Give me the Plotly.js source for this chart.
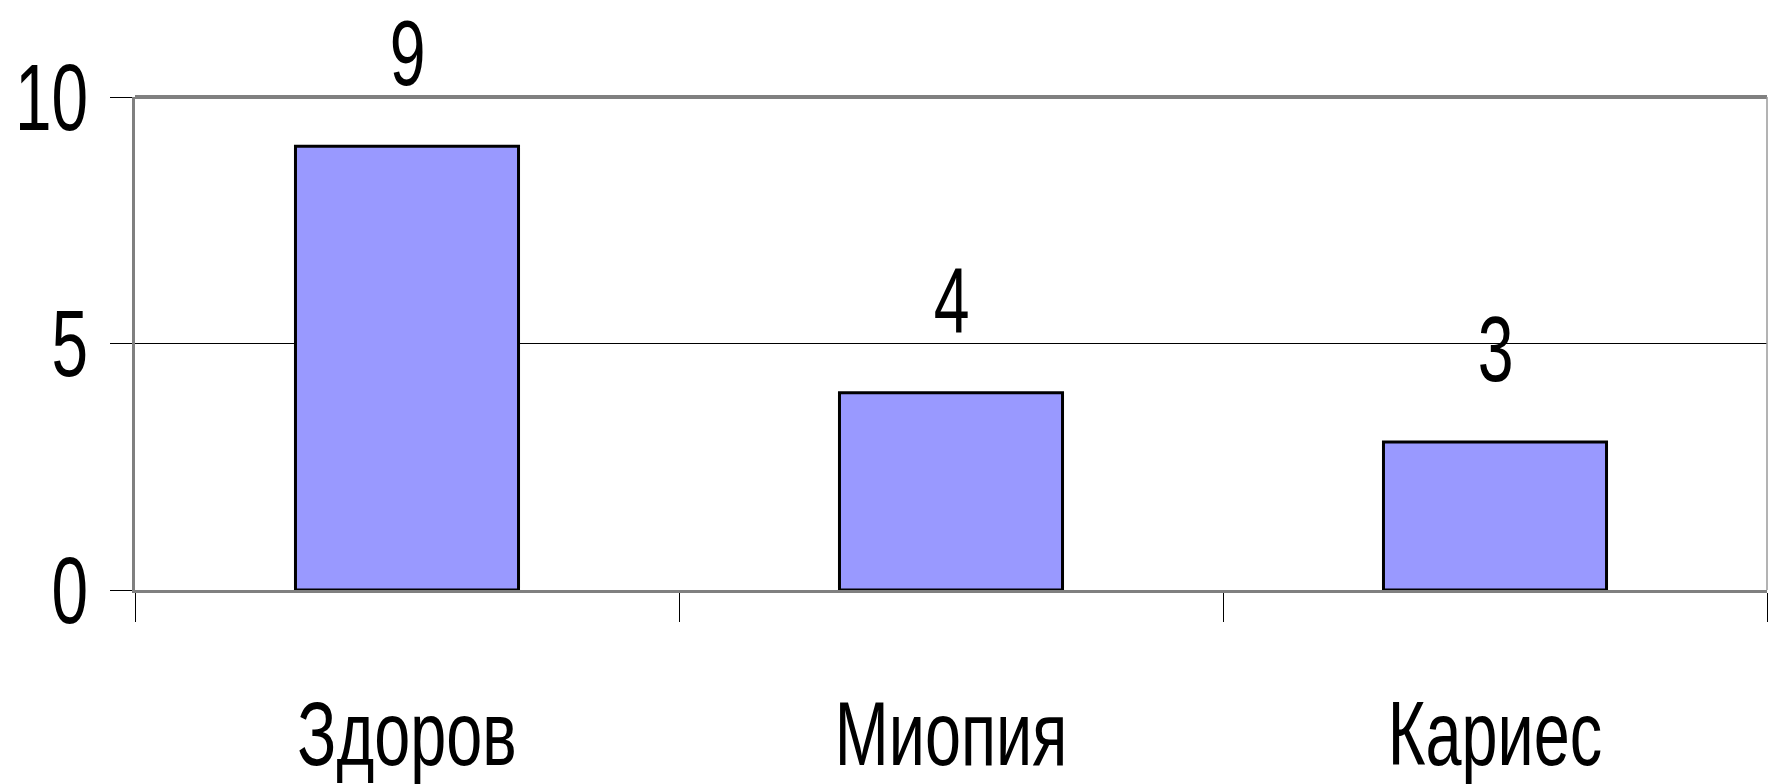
<!DOCTYPE html>
<html>
<head>
<meta charset="utf-8">
<script src="https://cdn.plot.ly/plotly-3.0.1.min.js"></script>
<style>
  html, body { margin: 0; padding: 0; background: #ffffff; }
  #chart { width: 1769px; height: 784px; }
</style>
</head>
<body>
<div id="chart"></div>
<script>
const categories = ["Здоров", "Миопия", "Кариес"];
const values = [9, 4, 3];
const yTickValues = [0, 5, 10];
const yTickLabels = ["0", "5", "10"];

const FONT = '"Liberation Sans", Arial, sans-serif';
const NUM_SIZE = 94;
const ANN_SIZE = 92;
const CAT_SIZE = 90;
const SQUEEZE_NUM = 0.7;
const SQUEEZE_CAT = 0.72;

const trace = {
  type: 'bar',
  x: categories,
  y: values,
  marker: { color: '#9999FF', line: { color: '#000000', width: 3 } },
  hoverinfo: 'skip'
};

const annotations = categories.map((c, i) => ({
  x: c, y: values[i], xref: 'x', yref: 'y',
  text: String(values[i]),
  showarrow: false,
  yanchor: 'bottom',
  yshift: 40,
  font: { family: FONT, size: ANN_SIZE, color: '#000000' }
}));

const layout = {
  width: 1769, height: 784,
  margin: { l: 135, r: 2, t: 97, b: 194, pad: 0 },
  paper_bgcolor: '#ffffff',
  plot_bgcolor: '#ffffff',
  showlegend: false,
  bargap: 0.59,
  font: { family: FONT, color: '#000000' },
  xaxis: {
    type: 'category',
    tickson: 'boundaries',
    ticks: 'outside', ticklen: 29, tickwidth: 1, tickcolor: '#000000',
    showline: true, linecolor: '#808080', linewidth: 3,
    showgrid: false, zeroline: false,
    tickfont: { family: FONT, size: CAT_SIZE, color: '#000000' },
    ticklabelstandoff: 64,
    fixedrange: true
  },
  yaxis: {
    range: [0, 10],
    tickvals: yTickValues, ticktext: yTickLabels,
    ticks: 'outside', ticklen: 22, tickwidth: 1, tickcolor: '#000000',
    showline: true, linecolor: '#808080', linewidth: 3,
    showgrid: true, gridcolor: '#000000', gridwidth: 1.5,
    zeroline: false,
    tickfont: { family: FONT, size: NUM_SIZE, color: '#000000' },
    ticklabelstandoff: 3,
    fixedrange: true
  },
  annotations: annotations,
  shapes: [
    { type: 'line', xref: 'paper', yref: 'paper', x0: 0, x1: 1, y0: 1, y1: 1,
      line: { color: '#808080', width: 4 } },
    { type: 'line', xref: 'paper', yref: 'paper', x0: 1, x1: 1, y0: 0, y1: 1,
      line: { color: '#9a9a9a', width: 1.5 } }
  ]
};

// Narrow the text horizontally (the reference uses a condensed face)
function squeeze(selector, s, anchor) {
  document.querySelectorAll(selector).forEach(t => {
    const b = t.getBBox();
    const cx = anchor === 'end' ? b.x + b.width : b.x + b.width / 2;
    const tr = t.getAttribute('transform') || '';
    t.setAttribute('transform',
      (tr + ' translate(' + cx + ',0) scale(' + s + ',1) translate(' + (-cx) + ',0)').trim());
  });
}

Plotly.newPlot('chart', [trace], layout, { displayModeBar: false, staticPlot: true })
  .then(() => {
    squeeze('#chart .xtick text', SQUEEZE_CAT, 'middle');
    squeeze('#chart .ytick text', SQUEEZE_NUM, 'end');
    squeeze('#chart .annotation-text', SQUEEZE_NUM, 'middle');
  });
</script>
</body>
</html>
